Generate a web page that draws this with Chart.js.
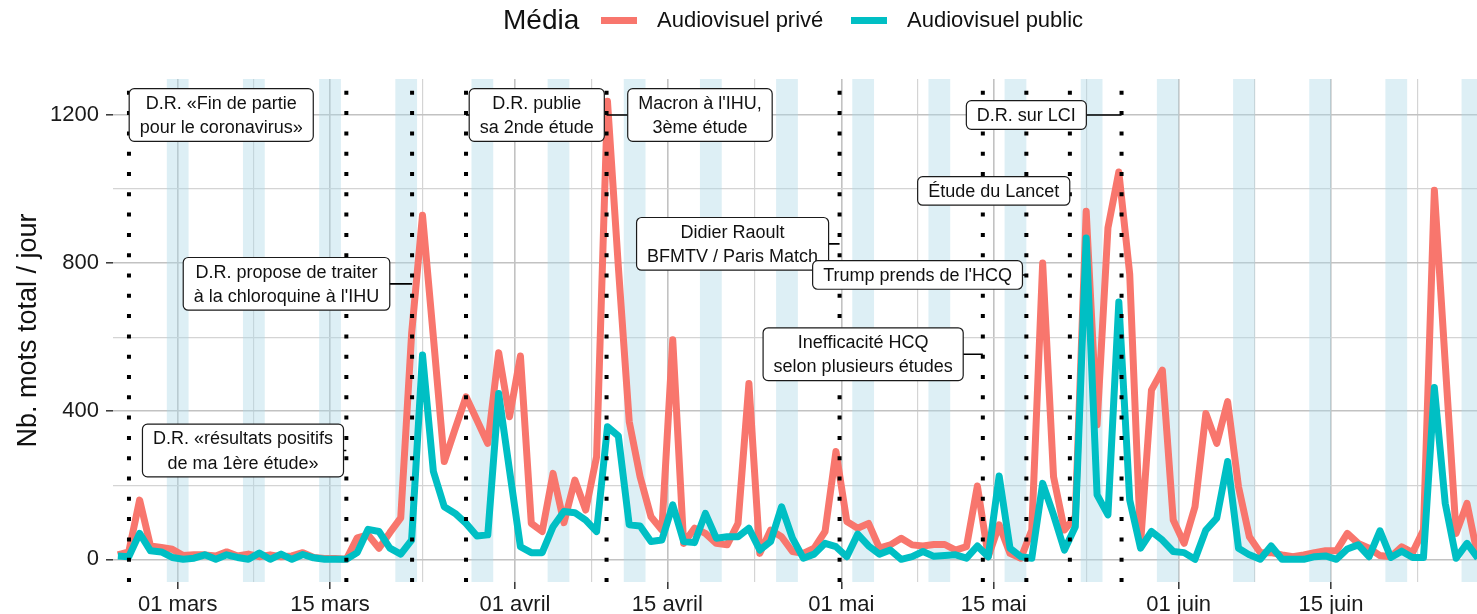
<!DOCTYPE html>
<html lang="fr">
<head>
<meta charset="utf-8">
<title>Nb. mots total / jour</title>
<script src="https://cdn.jsdelivr.net/npm/chart.js@4.4.1/dist/chart.umd.min.js"></script>
<style>
  html, body { margin: 0; padding: 0; background: #fff; }
  canvas { display: block; }
</style>
</head>
<body>
<canvas id="chart" width="1477" height="614"></canvas>
<script>
// Daily word counts, one value per day from firstDate onwards
const firstDate = '2020-02-24';
const audioPrive = [
  12, 20, 160, 36, 32, 27, 10, 12, 12, 9,
  20, 9, 14, 7, 12, 7, 9, 18, 5, 2,
  2, 0, 58, 66, 30, 72, 112, 610, 929, 600,
  264, 352, 439, 376, 313, 558, 385, 549, 97, 75,
  232, 99, 214, 133, 277, 1237, 790, 372, 223, 115,
  79, 593, 43, 84, 70, 43, 39, 97, 475, 16,
  79, 61, 21, 16, 30, 75, 291, 102, 84, 97,
  30, 39, 57, 39, 36, 40, 40, 25, 34, 198,
  7, 93, 16, 3, 79, 800, 223, 79, 115, 940,
  363, 895, 1046, 770, 43, 457, 511, 106, 43, 142,
  394, 313, 426, 196, 61, 18, 18, 12, 7, 12,
  18, 23, 23, 70, 43, 30, 10, 7, 34, 18,
  79, 997, 530, 70, 151, 7
];
const audioPublic = [
  9, 7, 70, 23, 20, 5, 0, 3, 12, 0,
  12, 5, 0, 17, 0, 14, 0, 13, 4, 0,
  0, 0, 18, 81, 75, 30, 14, 52, 552, 237,
  142, 124, 97, 63, 66, 448, 240, 34, 18, 18,
  88, 129, 126, 106, 75, 358, 333, 93, 90, 48,
  52, 147, 48, 45, 124, 57, 61, 61, 84, 25,
  48, 142, 57, 3, 14, 43, 34, 7, 68, 36,
  14, 25, 0, 7, 21, 8, 10, 12, 3, 36,
  7, 225, 30, 7, 3, 205, 120, 25, 88, 868,
  174, 120, 695, 160, 30, 75, 52, 21, 18, 0,
  79, 111, 264, 30, 12, 0, 36, 0, 0, 0,
  7, 9, 0, 28, 39, 7, 77, 5, 22, 5,
  5, 464, 151, 3, 43, 3
];
const seriesNames = ['Audiovisuel privé', 'Audiovisuel public'];
const legendTitle = 'Média';
const yTitle = 'Nb. mots total / jour';

// Axis ticks
const xTickDates = ['2020-02-15', '2020-03-01', '2020-03-15', '2020-04-01', '2020-04-15', '2020-05-01', '2020-05-15', '2020-06-01', '2020-06-15', '2020-07-01'];
const xTickLabels = ['15 févr.', '01 mars', '15 mars', '01 avril', '15 avril', '01 mai', '15 mai', '01 juin', '15 juin', '01 juil.'];
const yTickValues = [0, 400, 800, 1200, 1600];

// Events (dotted lines) and their labels
const eventDates = ['2020-02-25T12:30', '2020-03-16T12:00', '2020-03-22T13:00', '2020-03-27T12:00', '2020-04-09T10:00',
                    '2020-04-30T20:00', '2020-05-14T00:00', '2020-05-18T00:00', '2020-05-22T00:00', '2020-05-26T18:00'];
const eventLabels = [
  'D.R. «Fin de partie\npour le coronavirus»',
  'D.R. «résultats positifs\nde ma 1ère étude»',
  'D.R. propose de traiter\nà la chloroquine à l\'IHU',
  'D.R. publie\nsa 2nde étude',
  'Macron à l\'IHU,\n3ème étude',
  'Didier Raoult\nBFMTV / Paris Match',
  'Inefficacité HCQ\nselon plusieurs études',
  'Trump prends de l\'HCQ',
  'Étude du Lancet',
  'D.R. sur LCI'
];
// where each label box sits (date, value) - layout only
const labelPos = [
  ['2020-03-05', 1200], ['2020-03-07', 294], ['2020-03-11', 744], ['2020-04-03', 1200], ['2020-04-18', 1200],
  ['2020-04-21', 852], ['2020-05-03', 554], ['2020-05-08', 768], ['2020-05-15', 995], ['2020-05-18', 1200]
];

const FONT = "'Liberation Sans', Arial, Helvetica, sans-serif";
const colPrive = '#F8766D';
const colPublic = '#00BFC4';
const bandColor = 'rgba(173, 216, 230, 0.42)';

// days since 1 March 2020 (UTC)
const origin = Date.UTC(2020, 2, 1);
function toDay(s) {
  const [d, t = '00:00'] = s.split('T');
  const [yy, mm, dd] = d.split('-').map(Number);
  const [hh, mi] = t.split(':').map(Number);
  return (Date.UTC(yy, mm - 1, dd, hh, mi) - origin) / 864e5;
}

const start = toDay(firstDate);
// each daily value is plotted at noon
const toPoints = arr => arr.map((v, i) => ({ x: start + i + 0.5, y: v }));

const xMin = -5.947, xMax = 119.42;
const yMin = -61.3, yMax = 1297.2;

const xMajor = xTickDates.map(toDay);
const xMinor = xMajor.slice(1).map((v, i) => (v + xMajor[i]) / 2);
const xTicks = xMajor.concat(xMinor).filter(v => v >= xMin && v <= xMax).sort((a, b) => a - b);
const isMajorX = v => xMajor.some(m => Math.abs(m - v) < 1e-6);

const yMinor = yTickValues.slice(1).map((v, i) => (v + yTickValues[i]) / 2);
const yTicks = yTickValues.concat(yMinor).filter(v => v >= yMin && v <= yMax).sort((a, b) => a - b);
const isMajorY = v => yTickValues.includes(v);

function roundRect(ctx, x, y, w, h, r) {
  ctx.beginPath();
  ctx.moveTo(x + r, y);
  ctx.arcTo(x + w, y, x + w, y + h, r);
  ctx.arcTo(x + w, y + h, x, y + h, r);
  ctx.arcTo(x, y + h, x, y, r);
  ctx.arcTo(x, y, x + w, y, r);
  ctx.closePath();
}

// Weekend bands (Saturday -> Monday), drawn over the grid and under the lines
const weekendPlugin = {
  id: 'weekends',
  beforeDatasetsDraw(chart) {
    const { ctx, chartArea: a, scales: { x } } = chart;
    ctx.save();
    ctx.beginPath();
    ctx.rect(a.left, a.top, a.right - a.left, a.bottom - a.top);
    ctx.clip();
    ctx.fillStyle = bandColor;
    for (let d = Math.floor(xMin) - 2; d <= Math.ceil(xMax); d++) {
      if (new Date(origin + d * 864e5).getUTCDay() !== 6) continue;
      const x0 = x.getPixelForValue(d);
      const x1 = x.getPixelForValue(d + 2);
      ctx.fillRect(x0, a.top, x1 - x0, a.bottom - a.top);
    }
    ctx.restore();
  }
};

// Dotted event lines + labelled boxes
const eventsPlugin = {
  id: 'events',
  afterDatasetsDraw(chart) {
    const { ctx, chartArea: a, scales: { x, y } } = chart;
    ctx.save();
    ctx.strokeStyle = '#000';
    ctx.lineWidth = 4;
    ctx.lineCap = 'butt';
    ctx.setLineDash([4, 16.3]);
    eventDates.forEach(d => {
      const px = x.getPixelForValue(toDay(d));
      ctx.beginPath();
      ctx.moveTo(px, a.bottom);
      ctx.lineTo(px, a.top);
      ctx.stroke();
    });
    ctx.setLineDash([]);

    ctx.font = `18px ${FONT}`;
    eventLabels.forEach((txt, i) => {
      const lines = txt.split('\n');
      const cx = x.getPixelForValue(toDay(labelPos[i][0]));
      const cy = y.getPixelForValue(labelPos[i][1]);
      const ex = x.getPixelForValue(toDay(eventDates[i]));
      const w = Math.max(...lines.map(l => ctx.measureText(l).width)) + 21;
      const h = lines.length * 24.1 + 4.5;
      // connector to the event line
      ctx.strokeStyle = '#000';
      ctx.lineWidth = 1.6;
      ctx.beginPath();
      ctx.moveTo(cx, cy);
      ctx.lineTo(ex, cy);
      ctx.stroke();
      roundRect(ctx, cx - w / 2, cy - h / 2, w, h, 5);
      ctx.fillStyle = '#fff';
      ctx.fill();
      ctx.lineWidth = 1.2;
      ctx.strokeStyle = '#1a1a1a';
      ctx.stroke();
      ctx.fillStyle = '#111';
      ctx.textAlign = 'center';
      ctx.textBaseline = 'middle';
      lines.forEach((l, j) => {
        ctx.fillText(l, cx, cy + (j - (lines.length - 1) / 2) * 24.4 + 1);
      });
    });
    ctx.restore();
  }
};

// Legend on one row at the top: title, then key + label per series
const legendPlugin = {
  id: 'topLegend',
  afterDraw(chart) {
    const { ctx } = chart;
    const cols = [colPrive, colPublic];
    const keyX = [601, 851];
    const labelX = [657, 907];
    ctx.save();
    ctx.fillStyle = '#111';
    ctx.textAlign = 'left';
    ctx.textBaseline = 'middle';
    ctx.font = `28px ${FONT}`;
    ctx.fillText(legendTitle, 503, 21);
    ctx.font = `22px ${FONT}`;
    seriesNames.forEach((name, i) => {
      ctx.fillStyle = cols[i];
      ctx.fillRect(keyX[i], 17, 36, 7);
      ctx.fillStyle = '#111';
      ctx.fillText(name, labelX[i], 21);
    });
    ctx.restore();
  }
};

Chart.defaults.font.family = FONT;
Chart.defaults.color = '#1a1a1a';

new Chart(document.getElementById('chart'), {
  type: 'line',
  data: {
    datasets: [
      { label: seriesNames[0], data: toPoints(audioPrive), borderColor: colPrive, backgroundColor: colPrive, order: 2 },
      { label: seriesNames[1], data: toPoints(audioPublic), borderColor: colPublic, backgroundColor: colPublic, order: 1 }
    ]
  },
  options: {
    responsive: false,
    animation: false,
    devicePixelRatio: 1,
    layout: { padding: { top: 79, left: 0, right: 0, bottom: 0 } },
    elements: {
      line: { borderWidth: 7, tension: 0, borderJoinStyle: 'round', borderCapStyle: 'butt', fill: false },
      point: { radius: 0, hoverRadius: 0 }
    },
    plugins: { legend: { display: false }, tooltip: { enabled: false } },
    scales: {
      x: {
        type: 'linear',
        min: xMin,
        max: xMax,
        afterBuildTicks: s => { s.ticks = xTicks.map(v => ({ value: v })); },
        afterFit: s => { s.height = 32; },
        border: { display: false },
        grid: {
          color: c => isMajorX(c.tick.value) ? '#c2c2c2' : '#d4d4d4',
          lineWidth: c => isMajorX(c.tick.value) ? 1.6 : 1.2,
          tickColor: c => isMajorX(c.tick.value) ? '#333' : 'rgba(0,0,0,0)',
          tickWidth: 1.5,
          tickLength: 7
        },
        ticks: {
          autoSkip: false,
          maxRotation: 0,
          minRotation: 0,
          padding: 3,
          font: { size: 22 },
          color: '#1a1a1a',
          callback: v => {
            const k = xMajor.findIndex(m => Math.abs(m - v) < 1e-6);
            return k >= 0 ? xTickLabels[k] : '';
          }
        }
      },
      y: {
        min: yMin,
        max: yMax,
        afterBuildTicks: s => { s.ticks = yTicks.map(v => ({ value: v })); },
        afterFit: s => { s.width = 113; },
        border: { display: false },
        grid: {
          color: c => isMajorY(c.tick.value) ? '#c2c2c2' : '#d4d4d4',
          lineWidth: c => isMajorY(c.tick.value) ? 1.6 : 1.2,
          tickColor: c => isMajorY(c.tick.value) ? '#333' : 'rgba(0,0,0,0)',
          tickWidth: 1.5,
          tickLength: 7
        },
        ticks: {
          padding: 7,
          font: { size: 22 },
          color: '#1a1a1a',
          callback: v => isMajorY(v) ? String(v) : ''
        },
        title: {
          display: true,
          text: yTitle,
          font: { size: 27 },
          color: '#111',
          padding: { top: 12, bottom: 0 }
        }
      }
    }
  },
  plugins: [weekendPlugin, eventsPlugin, legendPlugin]
});
</script>
</body>
</html>
